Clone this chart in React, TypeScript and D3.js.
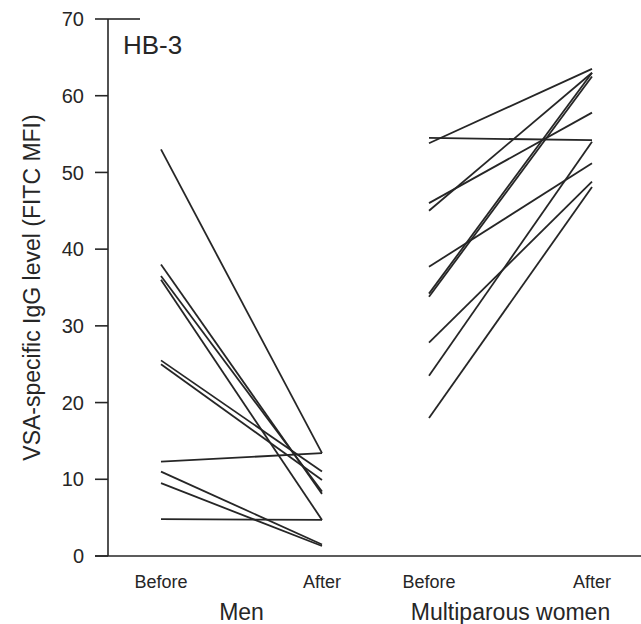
import React from 'react'
import * as d3 from 'd3'

// values: before -> after, one pair per subject
const menBefore = [53, 38, 36.5, 36, 25.5, 25, 12.3, 11, 9.5, 4.8]
const menAfter = [13.4, 8.1, 8.4, 4.7, 11, 9.9, 13.4, 1.5, 1.3, 4.7]
const womenBefore = [54.5, 53.8, 46, 45, 37.7, 34.2, 33.8, 27.8, 23.5, 18]
const womenAfter = [54.2, 63.5, 57.8, 63, 51.2, 63, 62.5, 48.8, 54, 48.1]

const yTicks = [0, 10, 20, 30, 40, 50, 60, 70]
const timeLabels = ['Before', 'After']
const groups = ['Men', 'Multiparous women']

const W = 641
const H = 624
const ink = '#262626'

export default function App() {
  const y = d3.scaleLinear().domain([0, 70]).range([556, 19])
  const x = d3
    .scaleOrdinal<string, number>()
    .domain(['Men-Before', 'Men-After', 'Multiparous women-Before', 'Multiparous women-After'])
    .range([161, 322, 429, 592])

  const line = d3
    .line<[string, number]>()
    .x(d => x(d[0]))
    .y(d => y(d[1]))

  const series = [
    { g: groups[0], before: menBefore, after: menAfter },
    { g: groups[1], before: womenBefore, after: womenAfter },
  ]

  const axisX = 108

  return (
    <svg
      width={W}
      height={H}
      style={{ position: 'absolute', left: 0, top: 0, background: '#fff' }}
      fontFamily="'Liberation Sans', Arial, sans-serif"
    >
      {/* y axis */}
      <line x1={axisX} x2={axisX} y1={y(70)} y2={y(0)} stroke={ink} strokeWidth={1.6} />
      <line x1={95} x2={W} y1={y(0)} y2={y(0)} stroke={ink} strokeWidth={1.6} />
      <line x1={axisX} x2={140} y1={y(70)} y2={y(70)} stroke={ink} strokeWidth={1.6} />
      {yTicks.map(t => (
        <g key={t}>
          <line x1={95} x2={axisX} y1={y(t)} y2={y(t)} stroke={ink} strokeWidth={1.6} />
          <text x={84} y={y(t)} dy="0.36em" textAnchor="end" fontSize={20} fill={ink}>
            {t}
          </text>
        </g>
      ))}
      <text
        transform={`translate(40,${(y(0) + y(70)) / 2}) rotate(-90)`}
        textAnchor="middle"
        fontSize={23}
        fill={ink}
      >
        VSA-specific IgG level (FITC MFI)
      </text>

      <text x={123} y={54} fontSize={26} fill={ink}>HB-3</text>

      {/* paired lines */}
      {series.map(s =>
        s.before.map((b, i) => (
          <path
            key={s.g + i}
            d={line([[s.g + '-Before', b], [s.g + '-After', s.after[i]]]) || ''}
            fill="none"
            stroke={ink}
            strokeWidth={1.8}
          />
        ))
      )}

      {/* x labels */}
      {groups.map(g => (
        <g key={g}>
          {timeLabels.map(t => (
            <text key={t} x={x(g + '-' + t)} y={588} textAnchor="middle" fontSize={18} fill={ink}>
              {t}
            </text>
          ))}
          <text
            x={(x(g + '-Before') + x(g + '-After')) / 2}
            y={620}
            textAnchor="middle"
            fontSize={23}
            fill={ink}
          >
            {g}
          </text>
        </g>
      ))}
    </svg>
  )
}
